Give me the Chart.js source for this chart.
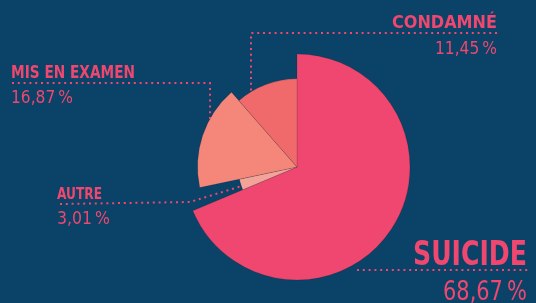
<!DOCTYPE html>
<html>
<head>
<meta charset="utf-8">
<script src="https://cdn.jsdelivr.net/npm/chart.js@4"></script>
<style>
  html, body { margin: 0; padding: 0; background: #0a4367; }
  #wrap { width: 536px; height: 303px; position: relative; }
</style>
</head>
<body>
<div id="wrap"><canvas id="pieChart"></canvas></div>
<script>
const labels = ['SUICIDE', 'AUTRE', 'MIS EN EXAMEN', 'CONDAMNÉ'];
const values = [68.67, 3.01, 16.87, 11.45];
const percentText = ['68,67\u202F%', '3,01\u202F%', '16,87\u202F%', '11,45\u202F%'];

// each slice has its own radius (share of the full radius)
const radiusShare = [1, 0.52, 0.88, 0.78];
const sliceColors = ['#ef476f', '#f4a398', '#f5867a', '#f0696b'];
const pink = '#ef476f';

/* per-slice radius */
const sliceRadius = {
    id: 'sliceRadius',
    afterDatasetsUpdate(chart) {
        const meta = chart.getDatasetMeta(0);
        meta.data.forEach(function (arc, i) {
            arc.outerRadius = meta.controller.outerRadius * radiusShare[i];
        });
    }
};

/* dotted leaders (under the slices) and the labels */
function dotted(ctx, pts) {
    ctx.save();
    ctx.strokeStyle = pink;
    ctx.lineWidth = 2;
    ctx.setLineDash([2, 3.8]);
    ctx.beginPath();
    ctx.moveTo(pts[0][0], pts[0][1]);
    for (let i = 1; i < pts.length; i++) ctx.lineTo(pts[i][0], pts[i][1]);
    ctx.stroke();
    ctx.restore();
}

const calloutLabels = {
    id: 'calloutLabels',
    beforeDatasetsDraw(chart) {
        const ctx = chart.ctx;
        dotted(ctx, [[497, 33], [251, 33], [251, 100]]);
        dotted(ctx, [[12, 83], [210, 83], [210, 130]]);
        dotted(ctx, [[60, 204], [190, 202], [245, 185]]);
        dotted(ctx, [[357, 270], [530, 270]]);
    },
    afterDraw(chart) {
        const ctx = chart.ctx;
        ctx.save();
        ctx.fillStyle = pink;
        ctx.textBaseline = 'alphabetic';

        // squeeze to the condensed look of the original
        function txt(s, x, y, font, align, maxW) {
            ctx.font = font;
            ctx.textAlign = align;
            ctx.fillText(s, x, y, maxW);
        }
        const fam = '"DejaVu Sans Condensed", "DejaVu Sans", sans-serif';

        txt(labels[3], 497, 28, 'bold 18px ' + fam, 'right', 105);
        txt(percentText[3], 497, 54, '18px ' + fam, 'right', 62);

        txt(labels[2], 11, 78, 'bold 18px ' + fam, 'left', 124);
        txt(percentText[2], 11, 103, '18px ' + fam, 'left', 62);

        txt(labels[1], 57, 199, 'bold 15px ' + fam, 'left', 45);
        txt(percentText[1], 57, 224, '18px ' + fam, 'left', 53);

        txt(labels[0], 527, 265, 'bold 33px ' + fam, 'right', 114);
        txt(percentText[0], 527, 300, '27px ' + fam, 'right', 84);
        ctx.restore();
    }
};

new Chart(document.getElementById('pieChart'), {
    type: 'pie',
    data: {
        labels: labels,
        datasets: [{
            data: values,
            backgroundColor: sliceColors,
            borderColor: 'rgba(0,0,0,0.12)',
            borderWidth: 1
        }]
    },
    options: {
        responsive: true,
        maintainAspectRatio: false,
        animation: false,
        radius: 113,
        layout: { padding: { left: 58, top: 31, right: 0, bottom: 0 } },
        plugins: {
            legend: { display: false },
            tooltip: { enabled: false }
        }
    },
    plugins: [sliceRadius, calloutLabels]
});
</script>
</body>
</html>
